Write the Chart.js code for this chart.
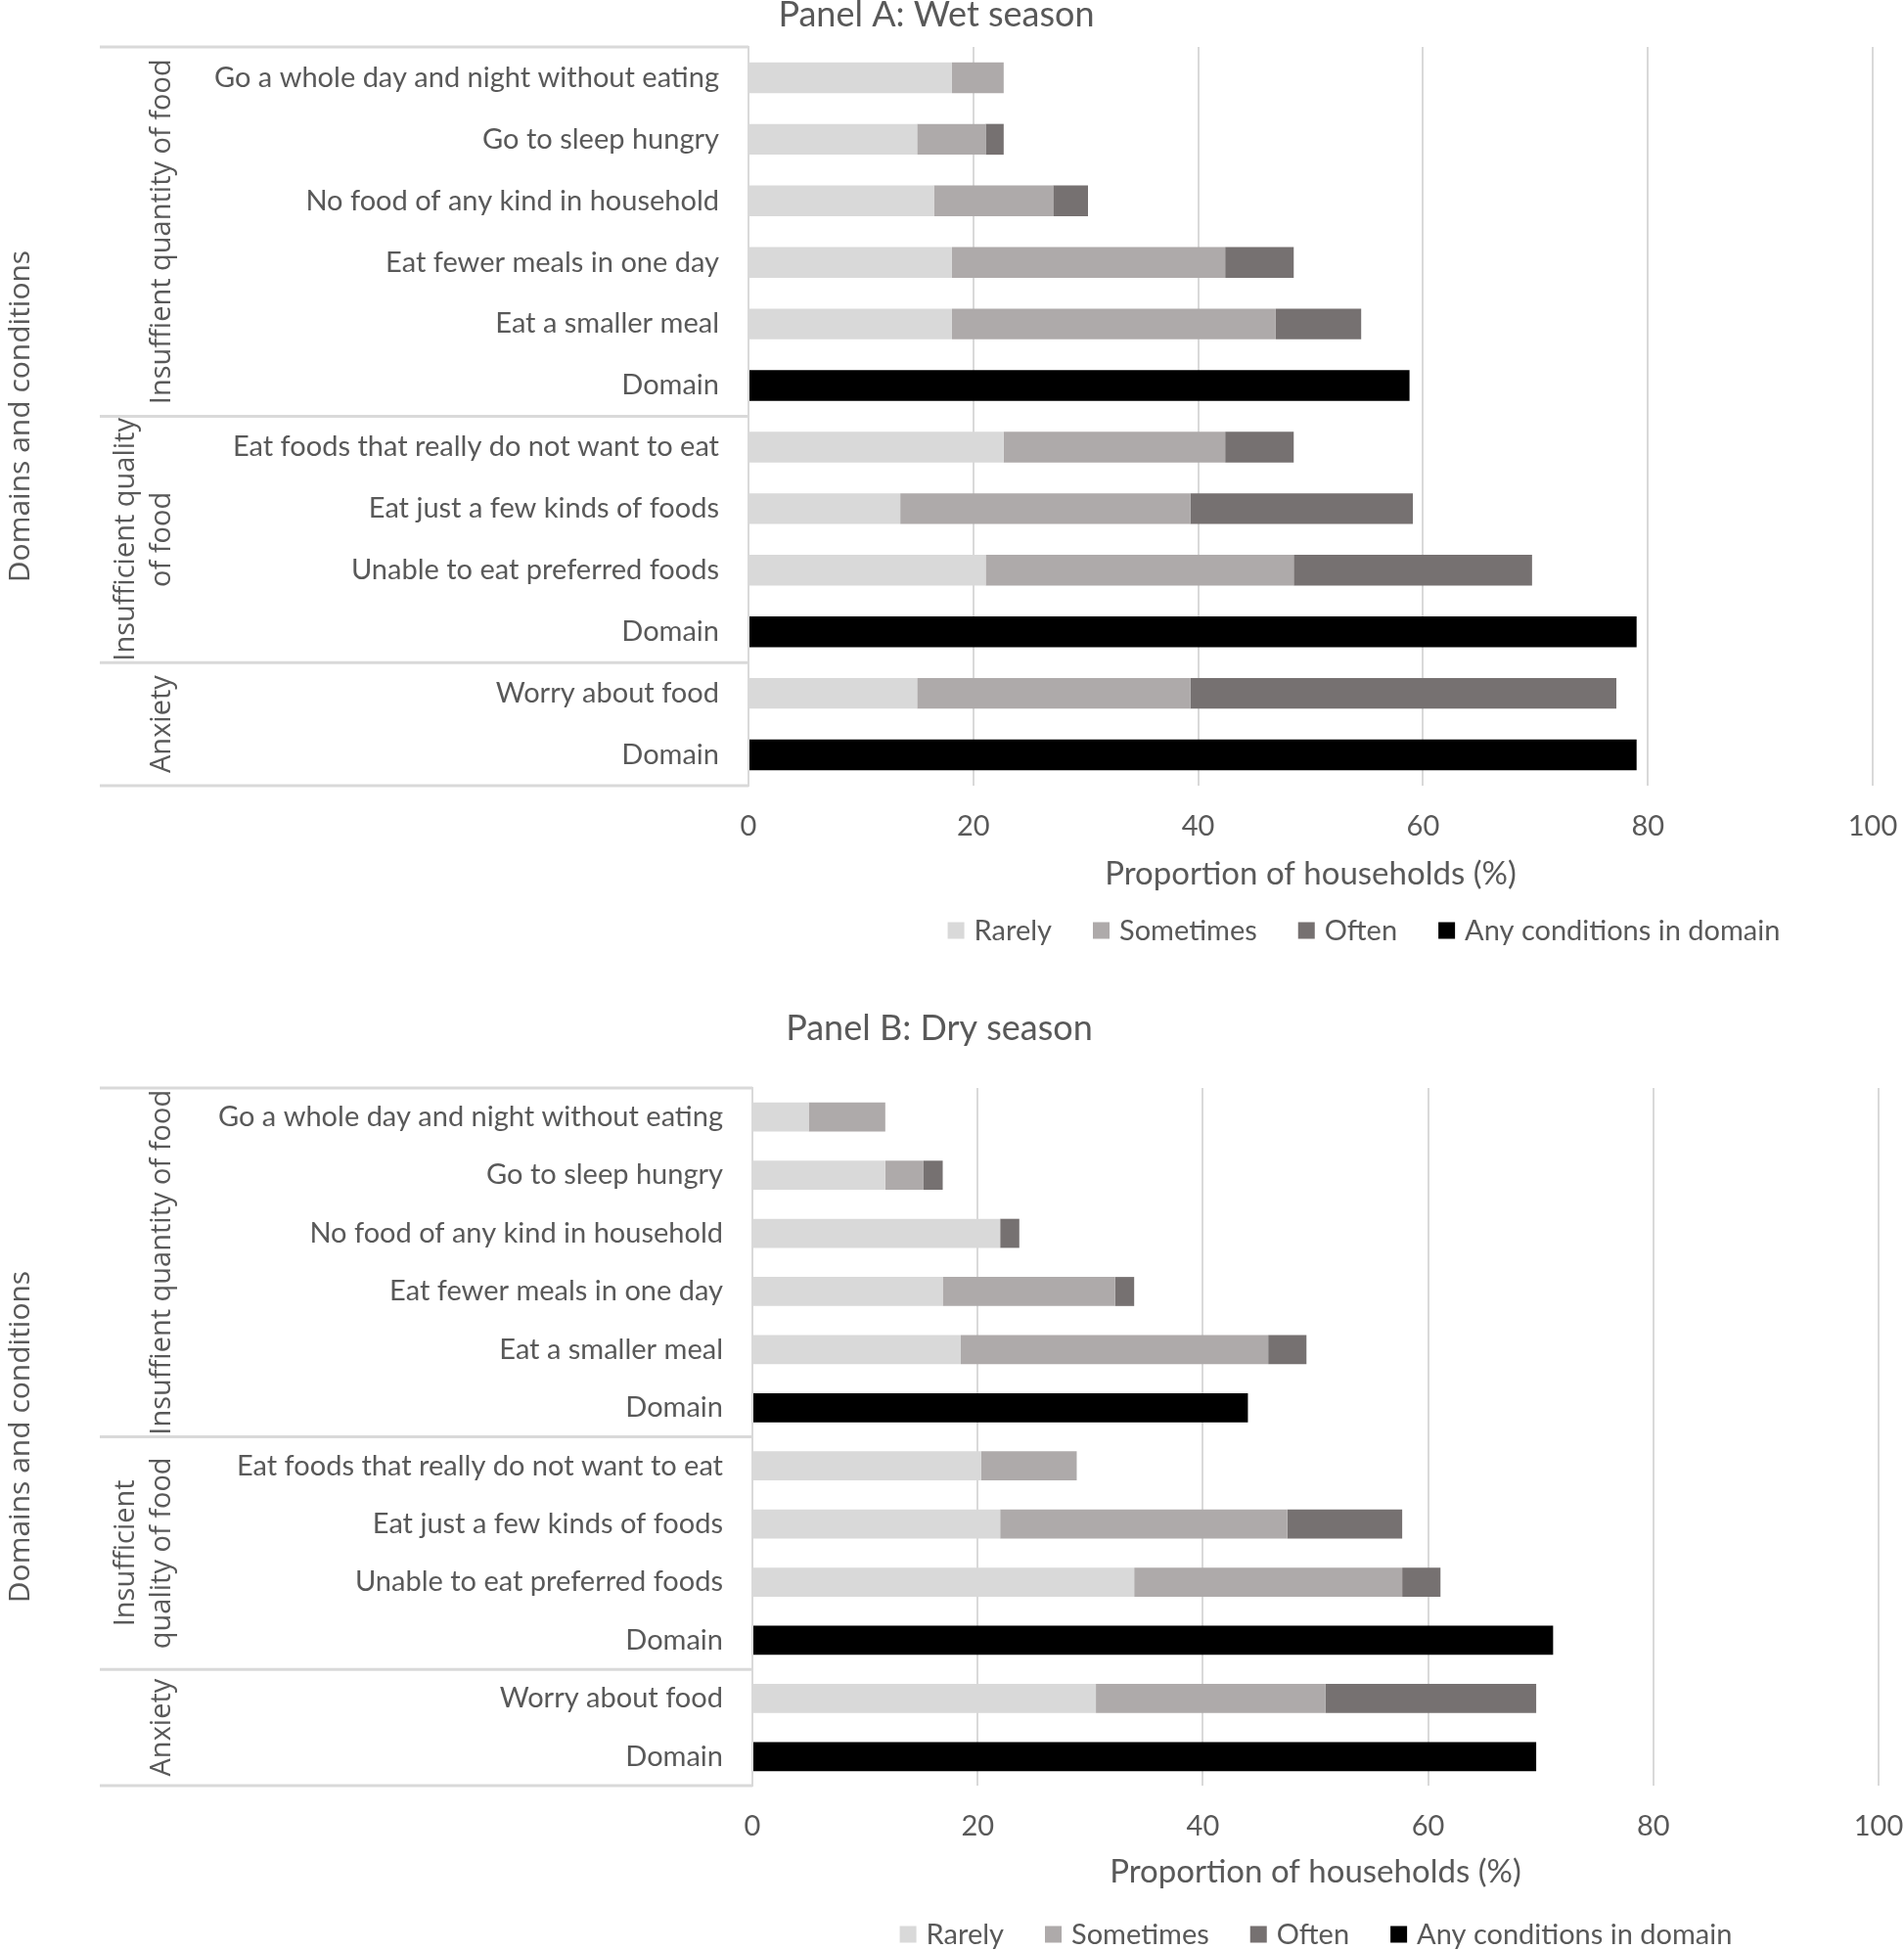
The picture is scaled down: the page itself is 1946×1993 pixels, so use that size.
<!DOCTYPE html>
<html>
<head>
<meta charset="utf-8">
<script src="https://cdn.jsdelivr.net/npm/chart.js@4.4.0/dist/chart.umd.min.js"></script>
<style>
body { margin: 0; background: #fff; }
canvas { display: block; }
</style>
</head>
<body>
<canvas id="wetChart" width="1946" height="1010"></canvas>
<canvas id="dryChart" width="1946" height="983"></canvas>
<script>
// row labels, top to bottom
var conditions = [
  'Go a whole day and night without eating',
  'Go to sleep hungry',
  'No food of any kind in household',
  'Eat fewer meals in one day',
  'Eat a smaller meal',
  'Domain',
  'Eat foods that really do not want to eat',
  'Eat just a few kinds of foods',
  'Unable to eat preferred foods',
  'Domain',
  'Worry about food',
  'Domain'
];
var seriesNames = ['Rarely', 'Sometimes', 'Often', 'Any conditions in domain'];
var xTicks = [0, 20, 40, 60, 80, 100];
var groupSizes = [6, 4, 2];

// Panel A: wet season (%)
var wetRarely    = [18.1, 15.0, 16.5, 18.1, 18.1, null, 22.7, 13.5, 21.1, null, 15.0, null];
var wetSometimes = [4.6,  6.1,  10.6, 24.3, 28.8, null, 19.7, 25.8, 27.4, null, 24.3, null];
var wetOften     = [0,    1.6,  3.1,  6.1,  7.6,  null, 6.1,  19.8, 21.2, null, 37.9, null];
var wetDomain    = [null, null, null, null, null, 58.8, null, null, null, 79.0, null, 79.0];

// Panel B: dry season (%)
var dryRarely    = [5.0,  11.8, 22.0, 16.9, 18.5, null, 20.3, 22.0, 33.9, null, 30.5, null];
var drySometimes = [6.8,  3.4,  0,    15.3, 27.3, null, 8.5,  25.5, 23.8, null, 20.4, null];
var dryOften     = [0,    1.7,  1.7,  1.7,  3.4,  null, 0,    10.2, 3.4,  null, 18.7, null];
var dryDomain    = [null, null, null, null, null, 44.0, null, null, null, 71.1, null, 69.6];

var colors = ['#d9d9d9', '#aeaaaa', '#767171', '#000000'];
var textColor = '#595959';

// group brackets on the left plus the legend row
var groupPlugin = {
  id: 'groups',
  afterDraw: function(chart) {
    var o = chart.options.plugins.groups;
    var ctx = chart.ctx;
    var ys = chart.scales.y;
    var area = chart.chartArea;
    ctx.save();

    // separator lines
    var cuts = [area.top];
    var idx = 0;
    for (var g = 0; g < groupSizes.length; g++) {
      idx += groupSizes[g];
      if (idx < conditions.length) {
        cuts.push((ys.getPixelForValue(idx - 1) + ys.getPixelForValue(idx)) / 2);
      }
    }
    cuts.push(area.bottom);
    ctx.strokeStyle = '#d9d9d9';
    ctx.lineWidth = 3;
    cuts.forEach(function(c) {
      ctx.beginPath();
      ctx.moveTo(102, c);
      ctx.lineTo(area.left, c);
      ctx.stroke();
    });

    // rotated group names
    ctx.fillStyle = textColor;
    ctx.font = '29px "Open Sans"';
    ctx.textAlign = 'center';
    ctx.textBaseline = 'middle';
    for (var k = 0; k < o.names.length; k++) {
      var cy = (cuts[k] + cuts[k + 1]) / 2;
      var lines = o.names[k];
      for (var j = 0; j < lines.length; j++) {
        var cx = 166 - (lines.length - 1 - j) * 37;
        ctx.save();
        ctx.translate(cx, cy);
        ctx.rotate(-Math.PI / 2);
        ctx.fillText(lines[j], 0, 0);
        ctx.restore();
      }
    }

    // legend
    ctx.font = '29px Lato';
    ctx.textAlign = 'left';
    var items = chart.data.datasets.map(function(ds) {
      return { label: ds.label, color: ds.backgroundColor, w: ctx.measureText(ds.label).width };
    });
    var box = 17, gapIn = 10, gapOut = 42;
    var total = 0;
    items.forEach(function(it, i) { total += box + gapIn + it.w + (i ? gapOut : 0); });
    var x = o.legendCenter - total / 2;
    items.forEach(function(it) {
      ctx.fillStyle = it.color;
      ctx.fillRect(x, o.legendY - box / 2, box, box);
      x += box + gapIn;
      ctx.fillStyle = textColor;
      ctx.fillText(it.label, x, o.legendY + 1);
      x += it.w + gapOut;
    });
    ctx.restore();
  }
};

function makeChart(id, title, values, o) {
  var datasets = values.map(function(v, i) {
    return {
      label: seriesNames[i],
      data: v,
      backgroundColor: colors[i],
      barPercentage: 0.5,
      categoryPercentage: 1.0
    };
  });
  return new Chart(document.getElementById(id), {
    type: 'bar',
    data: { labels: conditions, datasets: datasets },
    plugins: [groupPlugin],
    options: {
      indexAxis: 'y',
      responsive: false,
      animation: false,
      devicePixelRatio: 1,
      layout: { padding: { left: 0, right: o.padRight, top: 0, bottom: o.padBottom } },
      plugins: {
        legend: { display: false },
        tooltip: { enabled: false },
        title: {
          display: true,
          text: title,
          color: textColor,
          font: { family: 'Lato', size: 36, weight: 'normal', lineHeight: 0.85 },
          padding: { top: o.titleTop, bottom: o.titleBottom }
        },
        groups: o
      },
      scales: {
        x: {
          stacked: true,
          min: 0,
          max: 100,
          afterBuildTicks: function(s) { s.ticks = xTicks.map(function(v) { return { value: v }; }); },
          afterFit: function(s) { s.height = o.xHeight; s.paddingLeft = 0; s.paddingRight = 0; },
          grid: { color: '#d9d9d9', lineWidth: 2, drawTicks: false },
          border: { display: false },
          ticks: { color: textColor, font: { family: 'Lato', size: 29 }, padding: 24 },
          title: {
            display: true,
            text: 'Proportion of households (%)',
            color: textColor,
            font: { family: 'Lato', size: 33 },
            padding: { top: 0, bottom: 0 }
          }
        },
        y: {
          stacked: true,
          afterFit: function(s) { s.width = o.yWidth; },
          grid: { display: false, drawTicks: false },
          border: { display: true, color: '#d9d9d9', width: 2 },
          ticks: { color: textColor, font: { family: 'Lato', size: 29 }, padding: 30, autoSkip: false },
          title: {
            display: true,
            text: 'Domains and conditions',
            color: textColor,
            font: { family: 'Open Sans', size: 30 },
            padding: { top: 3, bottom: 0 }
          }
        }
      }
    }
  });
}

makeChart('wetChart', 'Panel A: Wet season',
  [wetRarely, wetSometimes, wetOften, wetDomain],
  {
    names: [['Insuffient quantity of food'], ['Insufficient quality', 'of food'], ['Anxiety']],
    yWidth: 765, padRight: 32, padBottom: 97, xHeight: 110,
    titleTop: 0, titleBottom: 17.4,
    legendCenter: 1394, legendY: 951
  });

makeChart('dryChart', 'Panel B: Dry season',
  [dryRarely, drySometimes, dryOften, dryDomain],
  {
    names: [['Insuffient quantity of food'], ['Insufficient', 'quality of food'], ['Anxiety']],
    yWidth: 769, padRight: 26, padBottom: 60, xHeight: 108,
    titleTop: 25.7, titleBottom: 45.7,
    legendCenter: 1345, legendY: 967
  });
</script>
</body>
</html>
